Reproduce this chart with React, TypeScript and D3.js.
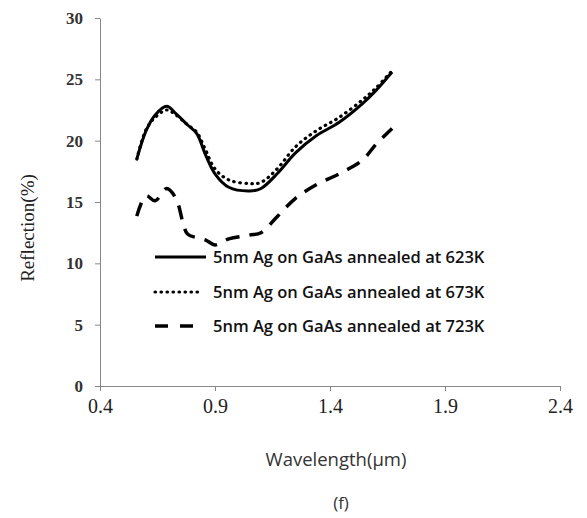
import { useEffect, useRef } from 'react';
import * as d3 from 'd3';

const wavelengths = [0.56, 0.6, 0.64, 0.69, 0.73, 0.78, 0.82, 0.86, 0.9, 0.96, 1.05, 1.1, 1.17, 1.25, 1.34, 1.44, 1.54, 1.6, 1.67];
const refl623 = [18.5, 20.8, 22.1, 22.8, 22.2, 21.3, 20.6, 18.8, 17.3, 16.2, 15.9, 16.1, 17.3, 19.0, 20.4, 21.5, 23.0, 24.1, 25.6];
const refl673 = [18.5, 20.9, 21.9, 22.5, 22.1, 21.3, 20.7, 19.2, 17.7, 16.8, 16.5, 16.6, 17.7, 19.5, 20.8, 21.9, 23.3, 24.3, 25.7];
const refl723 = [13.85, 15.5, 15.1, 16.1, 15.3, 12.4, 12.1, 11.9, 11.5, 12.0, 12.3, 12.5, 13.8, 15.3, 16.4, 17.3, 18.4, 19.7, 21.0];
const seriesNames = [
	'5nm Ag on GaAs annealed at 623K',
	'5nm Ag on GaAs annealed at 673K',
	'5nm Ag on GaAs annealed at 723K',
];
const xTicks = [0.4, 0.9, 1.4, 1.9, 2.4];
const yTicks = [0, 5, 10, 15, 20, 25, 30];

function App() {
	const ref = useRef<SVGSVGElement>(null);

	useEffect(() => {
		const svg = d3.select(ref.current);
		svg.selectAll('*').remove();

		const xScale = d3.scaleLinear().domain([0.4, 2.4]).range([100, 560]);
		const yScale = d3.scaleLinear().domain([0, 30]).range([386, 18]);
		const axisColor = '#888';

		const xAxis = svg
			.append('g')
			.attr('transform', `translate(0,${yScale(0)})`)
			.call(d3.axisBottom(xScale).tickValues(xTicks).tickSize(5).tickSizeOuter(0).tickPadding(8).tickFormat(d3.format('.1f')));
		xAxis.select('.domain').attr('stroke', axisColor);
		xAxis.selectAll('line').attr('stroke', axisColor);
		xAxis.selectAll('text')
			.attr('font-family', '"Liberation Serif", serif')
			.attr('font-size', 20)
			.attr('fill', '#222');

		const yAxis = svg
			.append('g')
			.attr('transform', `translate(${xScale(0.4)},0)`)
			.call(d3.axisLeft(yScale).tickValues(yTicks).tickSize(5).tickSizeOuter(0).tickPadding(12));
		yAxis.select('.domain').attr('stroke', axisColor);
		yAxis.selectAll('line').attr('stroke', axisColor);
		yAxis.selectAll('text')
			.attr('font-family', '"Liberation Serif", serif')
			.attr('font-size', 17)
			.attr('font-weight', 'bold')
			.attr('fill', '#333');

		const line = d3
			.line<number>()
			.x((d, i) => xScale(wavelengths[i]))
			.y(d => yScale(d))
			.curve(d3.curveCatmullRom);

		const styles = [
			{ data: refl623, width: 3, dash: null as string | null, cap: 'butt' },
			{ data: refl673, width: 3.2, dash: '0.5,5.5', cap: 'round' },
			{ data: refl723, width: 3.5, dash: '14,10', cap: 'butt' },
		];

		styles.forEach(s => {
			svg
				.append('path')
				.datum(s.data)
				.attr('fill', 'none')
				.attr('stroke', '#000')
				.attr('stroke-width', s.width)
				.attr('stroke-linecap', s.cap)
				.attr('stroke-dasharray', s.dash)
				.attr('d', line);
		});

		// legend
		const legend = svg.append('g');
		const legendY = [257, 292, 326];
		const legendLines = [[155, 206], [155, 203], [155, 193]];
		styles.forEach((s, i) => {
			legend
				.append('line')
				.attr('x1', legendLines[i][0])
				.attr('x2', legendLines[i][1])
				.attr('y1', legendY[i])
				.attr('y2', legendY[i])
				.attr('stroke', '#000')
				.attr('stroke-width', s.width)
				.attr('stroke-linecap', s.cap)
				.attr('stroke-dasharray', i === 2 ? '13,12' : s.dash);
			legend
				.append('text')
				.attr('x', 213)
				.attr('y', legendY[i])
				.attr('dy', '0.35em')
				.attr('font-family', '"Open Sans", sans-serif')
				.attr('font-size', 16.5)
				.attr('font-weight', 600)
				.attr('fill', '#111')
				.text(seriesNames[i]);
		});

		svg
			.append('text')
			.attr('transform', 'translate(27,228) rotate(-90)')
			.attr('text-anchor', 'middle')
			.attr('dy', '0.35em')
			.attr('font-family', '"Liberation Serif", serif')
			.attr('font-size', 19)
			.attr('fill', '#222')
			.text('Reflection(%)');

		svg
			.append('text')
			.attr('x', 336)
			.attr('y', 460)
			.attr('dy', '0.35em')
			.attr('text-anchor', 'middle')
			.attr('font-family', '"Open Sans", sans-serif')
			.attr('font-size', 18.5)
			.attr('fill', '#333')
			.text('Wavelength(μm)');

		svg
			.append('text')
			.attr('x', 341)
			.attr('y', 503)
			.attr('dy', '0.35em')
			.attr('text-anchor', 'middle')
			.attr('font-family', '"Open Sans", sans-serif')
			.attr('font-size', 17)
			.attr('fill', '#333')
			.text('(f)');
	}, []);

	return (
		<div>
			<style>{'body{margin:0}'}</style>
			<svg ref={ref} width={587} height={518} style={{ display: 'block', background: '#fff' }}></svg>
		</div>
	);
}

export default App;
